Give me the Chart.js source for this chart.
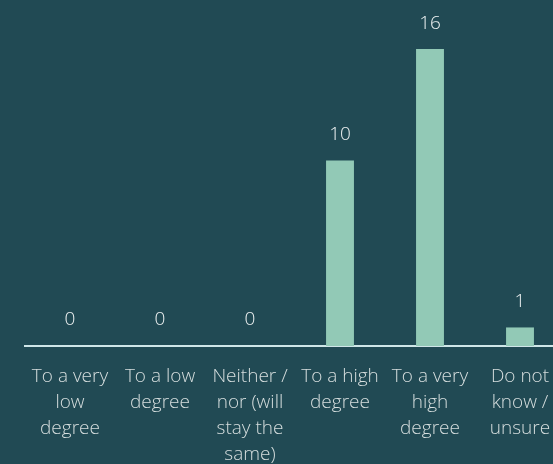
<!DOCTYPE html>
<html>
<head>
<meta charset="utf-8">
<script src="https://cdn.jsdelivr.net/npm/chart.js@4"></script>
<style>
  html, body { margin: 0; padding: 0; background: #214a54; overflow: hidden; }
  #wrap { width: 553px; height: 464px; position: relative; overflow: hidden; }
</style>
</head>
<body>
<div id="wrap"><canvas id="chart" width="575" height="478"></canvas></div>
<script>
// Survey answers and counts
const categories = [
    ['To a very', 'low', 'degree'],
    ['To a low', 'degree'],
    ['Neither /', 'nor (will', 'stay the', 'same)'],
    ['To a high', 'degree'],
    ['To a very', 'high', 'degree'],
    ['Do not', 'know /', 'unsure']
];
const counts = [0, 0, 0, 10, 16, 1];

const fontFamily = "'Open Sans', 'Noto Sans', sans-serif";

// Draw the value above each bar
const valueLabels = {
    id: 'valueLabels',
    afterDatasetsDraw(chart) {
        const ctx = chart.ctx;
        const meta = chart.getDatasetMeta(0);
        ctx.save();
        ctx.font = `300 19px ${fontFamily}`;
        ctx.fillStyle = '#eef2f2';
        ctx.textAlign = 'center';
        ctx.textBaseline = 'middle';
        meta.data.forEach((bar, i) => {
            ctx.fillText(String(counts[i]), bar.x, bar.y - 26);
        });
        ctx.restore();
    }
};

new Chart(document.getElementById('chart'), {
    type: 'bar',
    data: {
        labels: categories,
        datasets: [{
            data: counts,
            backgroundColor: '#92c9b6',
            categoryPercentage: 1,
            barPercentage: 0.31,
        }],
    },
    options: {
        responsive: false,
        animation: false,
        layout: { padding: { left: 25, right: 10, top: 12, bottom: 0 } },
        plugins: {
            legend: { display: false },
            tooltip: { enabled: false },
        },
        scales: {
            x: {
                grid: { display: false },
                border: { color: '#cfe6e8', width: 2 },
                ticks: {
                    color: '#d6dede',
                    font: { family: fontFamily, size: 19, weight: 300, lineHeight: '26px' },
                    maxRotation: 0,
                    autoSkip: false,
                    padding: 10,
                },
            },
            y: {
                display: false,
                min: 0,
                max: 18,
            },
        },
    },
    plugins: [valueLabels],
});
</script>
</body>
</html>
